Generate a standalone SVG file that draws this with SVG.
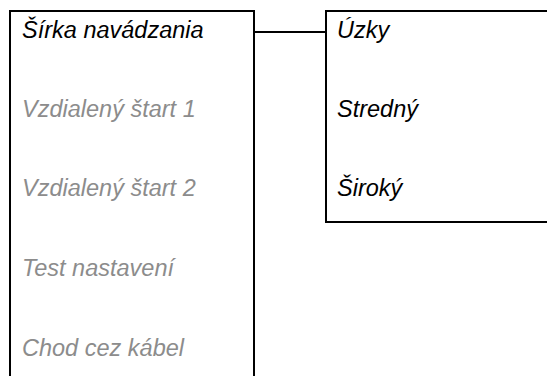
<svg xmlns="http://www.w3.org/2000/svg" width="547" height="376" viewBox="0 0 547 376">
<style>
.box{fill:#fff;stroke:#000;stroke-width:2}
.t{font-family:"Liberation Sans",Arial,sans-serif;font-size:23.5px;font-style:italic;fill:#000}
.g{fill:#8c8c8c}
.c{stroke:#000;stroke-width:2;fill:none}
</style>
<rect width="547" height="376" fill="#fff"/>
<g id="menu">
<rect class="box" x="10" y="11" width="244" height="380"/>
<text class="t" x="22" y="38">Šírka navádzania</text>
<text class="t g" x="22" y="117">Vzdialený štart 1</text>
<text class="t g" x="22" y="196">Vzdialený štart 2</text>
<text class="t g" x="22" y="276">Test nastavení</text>
<text class="t g" x="22" y="356">Chod cez kábel</text>
</g>
<g id="submenu">
<rect class="box" x="326" y="11" width="240" height="211"/>
<text class="t" x="337" y="38">Úzky</text>
<text class="t" x="337" y="117">Stredný</text>
<text class="t" x="337" y="196">Široký</text>
</g>
<g id="connectors">
<line class="c" x1="254" y1="32" x2="326" y2="32"/>
</g>
</svg>
